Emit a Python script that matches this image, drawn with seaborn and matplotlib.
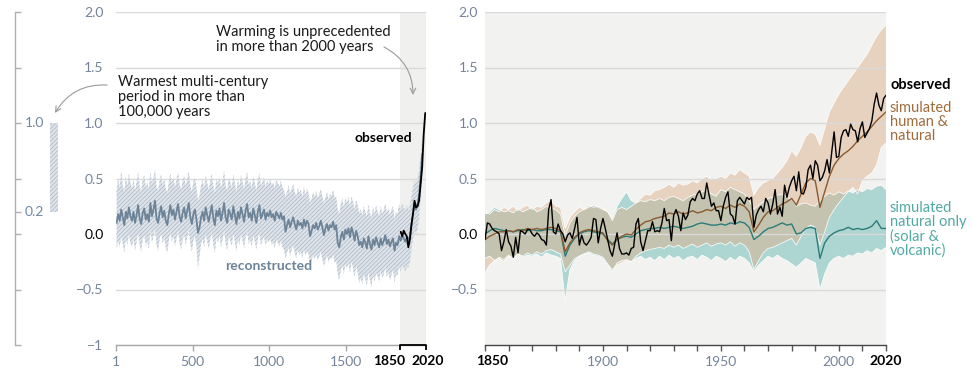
import matplotlib
matplotlib.use("Agg")
import matplotlib.pyplot as plt
import seaborn as sns
import pandas as pd
import numpy as np

# ---------------- data ----------------
# (a) reconstructed decadal global surface temperature change (°C, rel. 1850-1900)
rec_years = list(range(5, 2000, 10))
rec_mid = [
    0.10, 0.18, 0.12, 0.22, 0.15, 0.08, 0.20, 0.14, 0.24, 0.16,
    0.12, 0.20, 0.10, 0.17, 0.26, 0.14, 0.09, 0.19, 0.23, 0.13,
    0.18, 0.11, 0.28, 0.16, 0.22, 0.30, 0.14, 0.10, 0.19, 0.25,
    0.15, 0.21, 0.12, 0.08, 0.18, 0.26, 0.17, 0.22, 0.13, 0.20,
    0.27, 0.16, 0.11, 0.19, 0.24, 0.14, 0.21, 0.28, 0.15, 0.09,
    0.18, 0.22, 0.13, 0.01, 0.06, 0.15, 0.20, 0.12, 0.24, 0.17,
    0.11, 0.19, 0.26, 0.14, 0.08, 0.21, 0.16, 0.23, 0.12, 0.19,
    0.28, 0.15, 0.10, 0.22, 0.18, 0.13, 0.25, 0.17, 0.09, 0.20,
    0.14, 0.24, 0.18, 0.11, 0.21, 0.27, 0.15, 0.19, 0.12, 0.23,
    0.17, 0.10, 0.20, 0.26, 0.14, 0.18, 0.22, 0.13, 0.19, 0.16,
    0.21, 0.15, 0.18, 0.12, 0.20, 0.17, 0.14, 0.19, 0.13, 0.16,
    0.02, 0.08, 0.13, 0.06, 0.11, 0.15, 0.09, 0.04, 0.12, 0.08,
    0.10, 0.05, 0.13, 0.07, 0.12, 0.09, -0.02, 0.03, 0.08, 0.05,
    0.10, 0.04, 0.07, 0.12, 0.06, -0.01, 0.05, 0.09, 0.03, 0.08,
    0.06, 0.11, 0.04, 0.08, -0.08, -0.12, -0.03, 0.02, -0.05, 0.04,
    0.00, 0.05, -0.03, 0.06, 0.01, -0.06, 0.03, -0.02, -0.10, -0.07,
    -0.12, -0.04, -0.08, -0.13, -0.02, -0.09, -0.14, -0.05, -0.10, -0.03,
    -0.08, -0.12, -0.04, -0.10, -0.06, -0.01, -0.09, -0.05, -0.11, -0.07,
    -0.04, -0.15, -0.08, -0.10, -0.02, -0.06, -0.01, -0.04, -0.07, -0.03,
    -0.06, -0.02, 0.08, 0.18, 0.25, 0.22, 0.27, 0.35, 0.52, 0.72,
]
rec_hi = [
    0.40, 0.50, 0.42, 0.58, 0.44, 0.38, 0.52, 0.43, 0.55, 0.46,
    0.41, 0.50, 0.39, 0.47, 0.56, 0.43, 0.38, 0.49, 0.53, 0.42,
    0.47, 0.40, 0.57, 0.45, 0.51, 0.58, 0.43, 0.39, 0.48, 0.54,
    0.44, 0.50, 0.41, 0.37, 0.47, 0.55, 0.46, 0.51, 0.42, 0.49,
    0.56, 0.45, 0.40, 0.48, 0.53, 0.43, 0.50, 0.57, 0.44, 0.38,
    0.47, 0.51, 0.42, 0.30, 0.35, 0.44, 0.49, 0.41, 0.53, 0.46,
    0.40, 0.48, 0.55, 0.43, 0.37, 0.50, 0.45, 0.52, 0.41, 0.48,
    0.57, 0.44, 0.39, 0.51, 0.47, 0.42, 0.54, 0.46, 0.38, 0.49,
    0.43, 0.53, 0.47, 0.40, 0.50, 0.56, 0.44, 0.48, 0.41, 0.52,
    0.46, 0.39, 0.49, 0.55, 0.43, 0.47, 0.51, 0.42, 0.48, 0.45,
    0.50, 0.44, 0.47, 0.41, 0.49, 0.46, 0.43, 0.48, 0.42, 0.40,
    0.33, 0.38, 0.44, 0.36, 0.41, 0.45, 0.38, 0.34, 0.42, 0.37,
    0.40, 0.33, 0.43, 0.35, 0.41, 0.37, 0.28, 0.32, 0.38, 0.33,
    0.39, 0.32, 0.36, 0.41, 0.34, 0.28, 0.33, 0.38, 0.31, 0.36,
    0.34, 0.40, 0.32, 0.34, 0.22, 0.18, 0.27, 0.32, 0.24, 0.33,
    0.28, 0.34, 0.25, 0.34, 0.29, 0.22, 0.31, 0.26, 0.19, 0.22,
    0.17, 0.25, 0.20, 0.16, 0.27, 0.19, 0.15, 0.24, 0.18, 0.26,
    0.20, 0.16, 0.25, 0.18, 0.22, 0.28, 0.19, 0.24, 0.17, 0.22,
    0.25, 0.13, 0.20, 0.18, 0.27, 0.22, 0.28, 0.24, 0.21, 0.26,
    0.22, 0.26, 0.34, 0.42, 0.48, 0.45, 0.50, 0.56, 0.70, 0.88,
]
rec_lo = [
    -0.14, -0.06, -0.12, -0.02, -0.09, -0.17, -0.04, -0.10, 0.00, -0.08,
    -0.12, -0.04, -0.15, -0.07, 0.02, -0.10, -0.16, -0.05, -0.01, -0.11,
    -0.06, -0.14, 0.04, -0.08, -0.02, 0.05, -0.10, -0.15, -0.05, 0.01,
    -0.09, -0.03, -0.12, -0.17, -0.06, 0.02, -0.07, -0.02, -0.11, -0.04,
    0.03, -0.08, -0.14, -0.05, 0.00, -0.10, -0.03, 0.04, -0.09, -0.16,
    -0.06, -0.02, -0.11, -0.31, -0.20, -0.09, -0.04, -0.12, 0.00, -0.07,
    -0.13, -0.05, 0.02, -0.10, -0.17, -0.03, -0.08, -0.01, -0.12, -0.05,
    0.04, -0.09, -0.15, -0.02, -0.06, -0.11, 0.01, -0.07, -0.16, -0.04,
    -0.10, 0.00, -0.06, -0.13, -0.03, 0.03, -0.09, -0.05, -0.12, -0.01,
    -0.07, -0.14, -0.04, 0.02, -0.10, -0.06, -0.02, -0.11, -0.05, -0.08,
    -0.04, -0.10, -0.07, -0.13, -0.05, -0.08, -0.11, -0.06, -0.12, -0.14,
    -0.22, -0.17, -0.12, -0.20, -0.14, -0.10, -0.17, -0.22, -0.14, -0.19,
    -0.16, -0.22, -0.13, -0.20, -0.15, -0.18, -0.29, -0.24, -0.19, -0.23,
    -0.18, -0.24, -0.20, -0.16, -0.23, -0.29, -0.24, -0.19, -0.26, -0.21,
    -0.23, -0.18, -0.26, -0.24, -0.36, -0.42, -0.33, -0.28, -0.36, -0.27,
    -0.31, -0.26, -0.35, -0.25, -0.31, -0.39, -0.29, -0.35, -0.44, -0.40,
    -0.45, -0.36, -0.41, -0.47, -0.34, -0.42, -0.48, -0.37, -0.43, -0.35,
    -0.38, -0.43, -0.33, -0.40, -0.36, -0.30, -0.39, -0.34, -0.42, -0.37,
    -0.32, -0.44, -0.36, -0.38, -0.29, -0.34, -0.28, -0.31, -0.34, -0.30,
    -0.30, -0.25, -0.14, -0.04, 0.03, 0.00, 0.05, 0.14, 0.32, 0.54,
]
# (a) observed decadal means
obs_dec_years = [1855, 1865, 1875, 1885, 1895, 1905, 1915, 1925, 1935,
                 1945, 1955, 1965, 1975, 1985, 1995, 2005, 2015]
obs_dec = [0.02, -0.02, 0.03, 0.00, -0.02, -0.12, -0.05, 0.08, 0.18,
           0.30, 0.24, 0.25, 0.30, 0.45, 0.60, 0.90, 1.09]
# warmest multi-century period (range, °C)
paleo_range = [0.2, 1.0]

# (b) observed annual 1850-2020
obs_years = list(range(1850, 2021))
obs = [
    -0.05, 0.10, 0.09, 0.05, 0.03, 0.02, 0.00, -0.15, -0.07, 0.04,
    -0.07, -0.11, -0.21, -0.03, -0.17, 0.03, 0.02, 0.00, 0.04, 0.04,
    0.00, -0.02, 0.01, -0.01, -0.05, -0.06, -0.10, 0.22, 0.31, 0.02,
    0.00, 0.09, 0.03, 0.00, -0.07, -0.01, 0.01, -0.04, 0.05, 0.15,
    -0.10, -0.01, -0.08, -0.10, -0.07, -0.03, 0.14, 0.13, -0.08, 0.05,
    0.14, 0.05, -0.05, -0.15, -0.20, -0.09, 0.01, -0.13, -0.18, -0.18,
    -0.17, -0.19, -0.13, -0.12, 0.09, 0.14, -0.07, -0.15, -0.06, 0.03,
    0.03, 0.11, 0.02, 0.03, 0.02, 0.10, 0.23, 0.12, 0.13, -0.06,
    0.17, 0.22, 0.16, 0.03, 0.19, 0.13, 0.17, 0.29, 0.32, 0.30,
    0.36, 0.39, 0.32, 0.32, 0.46, 0.35, 0.25, 0.28, 0.21, 0.21,
    0.12, 0.25, 0.33, 0.38, 0.18, 0.16, 0.09, 0.30, 0.33, 0.30,
    0.27, 0.33, 0.31, 0.33, 0.06, 0.17, 0.22, 0.25, 0.20, 0.32,
    0.28, 0.18, 0.27, 0.40, 0.18, 0.24, 0.16, 0.44, 0.33, 0.42,
    0.48, 0.52, 0.39, 0.56, 0.37, 0.36, 0.42, 0.58, 0.62, 0.50,
    0.66, 0.62, 0.48, 0.51, 0.57, 0.67, 0.55, 0.74, 0.92, 0.69,
    0.70, 0.87, 0.93, 0.94, 0.88, 0.99, 0.94, 0.93, 0.83, 0.95,
    1.01, 0.87, 0.91, 0.95, 1.02, 1.17, 1.27, 1.16, 1.11, 1.22, 1.25,
]
# (b) simulations (every 2 years)
sim_years = list(range(1850, 2021, 2))
hn_mean = [
    -0.05, -0.02, 0.00, 0.02, 0.02, 0.03, 0.02, 0.04, 0.03, 0.05,
    0.04, 0.05, 0.04, 0.05, 0.06, 0.05, 0.03, -0.16, -0.08, -0.03,
    0.01, 0.03, 0.04, 0.03, 0.02, 0.01, -0.06, -0.10, -0.05, -0.02,
    0.00, -0.01, 0.04, 0.08, 0.11, 0.12, 0.14, 0.15, 0.16, 0.19,
    0.18, 0.20, 0.18, 0.19, 0.21, 0.19, 0.20, 0.22, 0.21, 0.24,
    0.25, 0.23, 0.26, 0.24, 0.27, 0.25, 0.20, 0.02, 0.08, 0.15,
    0.20, 0.21, 0.24, 0.27, 0.29, 0.32, 0.26, 0.36, 0.46, 0.50,
    0.48, 0.24, 0.38, 0.52, 0.62, 0.68, 0.72, 0.75, 0.79, 0.84,
    0.88, 0.92, 0.97, 1.02, 1.06, 1.10,
]
hn_hi = [
    0.19, 0.18, 0.22, 0.20, 0.24, 0.22, 0.25, 0.21, 0.24, 0.26,
    0.22, 0.25, 0.24, 0.28, 0.30, 0.25, 0.24, 0.05, 0.15, 0.20,
    0.24, 0.22, 0.26, 0.24, 0.25, 0.23, 0.20, 0.12, 0.22, 0.24,
    0.22, 0.25, 0.28, 0.32, 0.36, 0.35, 0.39, 0.40, 0.42, 0.45,
    0.42, 0.46, 0.44, 0.45, 0.48, 0.46, 0.50, 0.52, 0.49, 0.50,
    0.52, 0.50, 0.55, 0.53, 0.58, 0.55, 0.52, 0.35, 0.42, 0.46,
    0.48, 0.50, 0.55, 0.60, 0.66, 0.75, 0.70, 0.78, 0.88, 0.92,
    0.90, 0.80, 0.95, 1.10, 1.18, 1.26, 1.32, 1.38, 1.44, 1.50,
    1.56, 1.62, 1.70, 1.78, 1.84, 1.88,
]
hn_lo = [
    -0.35, -0.28, -0.24, -0.22, -0.25, -0.20, -0.22, -0.18, -0.20, -0.17,
    -0.19, -0.16, -0.18, -0.15, -0.14, -0.16, -0.18, -0.34, -0.28, -0.22,
    -0.20, -0.18, -0.16, -0.18, -0.19, -0.21, -0.27, -0.32, -0.28, -0.26,
    -0.24, -0.25, -0.20, -0.17, -0.15, -0.14, -0.13, -0.12, -0.13, -0.10,
    -0.12, -0.10, -0.13, -0.11, -0.09, -0.12, -0.10, -0.08, -0.11, -0.09,
    -0.08, -0.10, -0.07, -0.11, -0.08, -0.10, -0.16, -0.32, -0.24, -0.17,
    -0.13, -0.12, -0.10, -0.08, -0.06, -0.04, -0.10, -0.02, 0.05, 0.08,
    0.06, -0.10, 0.02, 0.15, 0.22, 0.28, 0.33, 0.38, 0.42, 0.36,
    0.48, 0.52, 0.55, 0.62, 0.78, 0.82,
]
nat_mean = [
    0.00, 0.03, 0.05, 0.04, 0.03, 0.03, 0.02, 0.03, 0.04, 0.03,
    0.04, 0.03, 0.03, 0.04, 0.04, 0.03, 0.02, -0.20, -0.10, -0.04,
    0.00, 0.02, 0.03, 0.02, 0.01, 0.00, -0.05, -0.09, -0.05, -0.03,
    -0.02, -0.03, 0.00, 0.03, 0.04, 0.05, 0.05, 0.06, 0.05, 0.06,
    0.07, 0.06, 0.05, 0.06, 0.07, 0.09, 0.10, 0.09, 0.08, 0.08,
    0.09, 0.08, 0.10, 0.09, 0.11, 0.10, 0.06, -0.05, -0.02, 0.02,
    0.05, 0.06, 0.08, 0.10, 0.08, 0.09, 0.00, 0.01, 0.05, 0.06,
    0.05, -0.22, -0.08, -0.02, 0.01, 0.03, 0.04, 0.06, 0.04, 0.05,
    0.04, 0.05, 0.07, 0.12, 0.05, 0.05,
]
nat_hi = [
    0.18, 0.20, 0.24, 0.22, 0.20, 0.21, 0.19, 0.23, 0.20, 0.22,
    0.24, 0.20, 0.22, 0.25, 0.23, 0.22, 0.18, -0.02, 0.10, 0.16,
    0.20, 0.22, 0.24, 0.26, 0.24, 0.22, 0.20, 0.14, 0.25, 0.32,
    0.38, 0.30, 0.28, 0.30, 0.29, 0.31, 0.30, 0.32, 0.30, 0.33,
    0.34, 0.32, 0.30, 0.33, 0.35, 0.36, 0.38, 0.40, 0.36, 0.34,
    0.40, 0.38, 0.42, 0.40, 0.38, 0.36, 0.30, 0.22, 0.26, 0.29,
    0.32, 0.33, 0.35, 0.36, 0.33, 0.31, 0.25, 0.27, 0.28, 0.26,
    0.25, 0.30, 0.34, 0.37, 0.35, 0.38, 0.36, 0.39, 0.37, 0.40,
    0.38, 0.41, 0.40, 0.43, 0.44, 0.40,
]
nat_lo = [
    -0.22, -0.20, -0.24, -0.21, -0.23, -0.19, -0.22, -0.18, -0.21, -0.19,
    -0.20, -0.18, -0.21, -0.17, -0.19, -0.20, -0.22, -0.60, -0.32, -0.24,
    -0.20, -0.18, -0.17, -0.19, -0.20, -0.22, -0.28, -0.34, -0.26, -0.24,
    -0.23, -0.25, -0.22, -0.20, -0.23, -0.21, -0.24, -0.20, -0.23, -0.19,
    -0.22, -0.20, -0.24, -0.21, -0.20, -0.23, -0.19, -0.21, -0.24, -0.20,
    -0.22, -0.25, -0.21, -0.24, -0.20, -0.22, -0.26, -0.34, -0.28, -0.24,
    -0.20, -0.22, -0.19, -0.22, -0.24, -0.27, -0.30, -0.26, -0.22, -0.24,
    -0.26, -0.50, -0.36, -0.26, -0.22, -0.20, -0.22, -0.19, -0.20, -0.17,
    -0.18, -0.15, -0.17, -0.13, -0.15, -0.12,
]

y_ticks = [-1, -0.5, 0, 0.5, 1.0, 1.5, 2.0]
y_labels = ["\u22121", "\u22120.5", "0.0", "0.5", "1.0", "1.5", "2.0"]

# ---------------- style ----------------
sns.set_style("white")
plt.rcParams["font.family"] = ["Lato", "DejaVu Sans"]
plt.rcParams["hatch.linewidth"] = 0.6

TICK_COL = "#75849a"
GRID_COL = "#dadada"
REC_COL = "#6d8397"
HN_LINE = "#8a5a2e"
HN_TEXT = "#a06d3c"
NAT_LINE = "#2a7d78"
NAT_TEXT = "#52aaa4"
HATCH_FACE = "#dfe4ea"
HATCH_LINE = "#afbcc9"
HATCH = "////////"

W, H = 972, 384
fig = plt.figure(figsize=(W / 100, H / 100), dpi=100)


def px(x0, y0, x1, y1):
    return [x0 / W, 1 - y1 / H, (x1 - x0) / W, (y1 - y0) / H]


ax0 = fig.add_axes(px(15, 12, 65, 345))
ax1 = fig.add_axes(px(116, 12, 426, 345))
ax2 = fig.add_axes(px(485, 12, 886, 345))

# ---------------- small left axis ----------------
ax0.patch.set_visible(False)
ax0.set_xlim(0, 50)
ax0.set_ylim(-1, 2)
for s in ["top", "right", "bottom"]:
    ax0.spines[s].set_visible(False)
ax0.spines["left"].set_color("#b0b0b0")
ax0.spines["left"].set_linewidth(1.0)
ax0.set_yticks([-1, -0.5, 0, 0.2, 0.5, 1.0, 1.5, 2.0])
ax0.tick_params(axis="y", direction="in", length=4, width=1.0, color="#b0b0b0",
                labelleft=False, left=True)
ax0.set_xticks([])
ax0.bar([39], [paleo_range[1] - paleo_range[0]], bottom=[paleo_range[0]], width=8,
        facecolor=HATCH_FACE, edgecolor=HATCH_LINE, hatch=HATCH, linewidth=0)
ax0.text(10, 1.0, "1.0", color="#6f88a3", fontsize=10, va="center", ha="left")
ax0.text(10, 0.2, "0.2", color="#6f88a3", fontsize=10, va="center", ha="left")

# ---------------- panel (a) ----------------
rec = pd.DataFrame({"year": rec_years, "mid": rec_mid, "lo": rec_lo, "hi": rec_hi})
obsd = pd.DataFrame({"year": obs_dec_years, "temp": obs_dec})

ax1.axvspan(1850, 2020, color="#f0f0ee", lw=0, zorder=0.2)
ax1.fill_between(rec["year"], rec["lo"], rec["hi"], facecolor=HATCH_FACE,
                 edgecolor=HATCH_LINE, hatch=HATCH, linewidth=0, zorder=2)
sns.lineplot(data=rec, x="year", y="mid", ax=ax1, color=REC_COL, lw=1.3,
             estimator=None, zorder=3)
sns.lineplot(data=obsd, x="year", y="temp", ax=ax1, color="black", lw=1.3,
             estimator=None, zorder=4)

ax1.set_xlim(1, 2020)
ax1.set_ylim(-1, 2)
ax1.set_xlabel("")
ax1.set_ylabel("")
ax1.set_axisbelow(True)
ax1.yaxis.grid(True, color=GRID_COL, lw=1.0)
ax1.xaxis.grid(False)
for s in ["top", "right", "left"]:
    ax1.spines[s].set_visible(False)
ax1.spines["bottom"].set_color("#a8a8a8")
ax1.spines["bottom"].set_linewidth(1.0)
ax1.set_xticks([1, 500, 1000, 1500])
ax1.set_xticklabels(["1", "500", "1000", "1500"])
ax1.tick_params(axis="x", length=4, width=1.0, color="#a8a8a8", pad=4,
                labelsize=10, labelcolor=TICK_COL, bottom=True)
ax1.set_yticks(y_ticks)
ax1.set_yticklabels(y_labels)
ax1.tick_params(axis="y", length=0, pad=9, labelsize=10, labelcolor=TICK_COL)
for t in ax1.get_yticklabels():
    if t.get_text() == "0.0":
        t.set_color("black")

# black bracket 1850-2020
ax1.plot([1850, 1850, 2020, 2020], [-1.045, -1, -1, -1.045], color="black",
         lw=1.3, clip_on=False, zorder=5, solid_capstyle="butt")
ax1.annotate("1850", xy=(1850, -1), xycoords="data", xytext=(4, -7),
             textcoords="offset points", ha="right", va="top", fontsize=10,
             fontweight="bold", color="black", annotation_clip=False)
ax1.annotate("2020", xy=(2020, -1), xycoords="data", xytext=(1, -7),
             textcoords="offset points", ha="center", va="top", fontsize=10,
             fontweight="bold", color="black", annotation_clip=False)

ax1.text(1930, 0.865, "observed", ha="right", va="center", fontsize=10,
         fontweight="bold", color="black")
ax1.text(997, -0.29, "reconstructed", ha="center", va="center", fontsize=10,
         fontweight="bold", color=REC_COL)

fig.text(216 / W, 1 - 39.5 / H, "Warming is unprecedented\nin more than 2000 years",
         ha="left", va="center", fontsize=10.5, color="#1a1a1a", linespacing=1.05)
fig.text(118 / W, 1 - 97 / H, "Warmest multi-century\nperiod in more than\n100,000 years",
         ha="left", va="center", fontsize=10.5, color="#1a1a1a", linespacing=1.05)

arrow_kw = dict(arrowstyle="->,head_length=0.4,head_width=0.2", color="#9a9a9a",
                lw=0.8, shrinkA=0, shrinkB=0)
ax1.annotate("", xy=(413, H - 95), xycoords="figure pixels",
             xytext=(384, H - 47), textcoords="figure pixels",
             arrowprops=dict(connectionstyle="arc3,rad=-0.3", **arrow_kw),
             annotation_clip=False)
ax1.annotate("", xy=(55, H - 113), xycoords="figure pixels",
             xytext=(107, H - 85), textcoords="figure pixels",
             arrowprops=dict(connectionstyle="arc3,rad=0.3", **arrow_kw),
             annotation_clip=False)

# ---------------- panel (b) ----------------
sim = pd.DataFrame({"year": sim_years, "hn": hn_mean, "hn_lo": hn_lo, "hn_hi": hn_hi,
                    "nat": nat_mean, "nat_lo": nat_lo, "nat_hi": nat_hi})
obsa = pd.DataFrame({"year": obs_years, "temp": obs})

ax2.set_facecolor("#f2f2f0")
ax2.fill_between(sim["year"], sim["nat_lo"], sim["nat_hi"], facecolor="#7fc3bd",
                 alpha=0.6, edgecolor="none", linewidth=0, zorder=1)
ax2.fill_between(sim["year"], sim["hn_lo"], sim["hn_hi"], facecolor="#dcb08a",
                 alpha=0.47, edgecolor="none", linewidth=0, zorder=1.1)
# thin white outlines of the ranges
for lo, hi in [("nat_lo", "nat_hi"), ("hn_lo", "hn_hi")]:
    ax2.plot(sim["year"], sim[lo], color="white", lw=0.6, alpha=0.9, zorder=1.2)
    ax2.plot(sim["year"], sim[hi], color="white", lw=0.6, alpha=0.9, zorder=1.2)

sns.lineplot(data=sim, x="year", y="nat", ax=ax2, color=NAT_LINE, lw=1.0,
             estimator=None, zorder=3)
sns.lineplot(data=sim, x="year", y="hn", ax=ax2, color=HN_LINE, lw=1.0,
             estimator=None, zorder=3.1)
sns.lineplot(data=obsa, x="year", y="temp", ax=ax2, color="black", lw=1.0,
             estimator=None, zorder=4)

ax2.set_xlim(1850, 2020)
ax2.set_ylim(-1, 2)
ax2.set_xlabel("")
ax2.set_ylabel("")
ax2.set_axisbelow("line")
ax2.yaxis.grid(True, color=GRID_COL, lw=1.0)
ax2.xaxis.grid(False)
for s in ["top", "right", "left"]:
    ax2.spines[s].set_visible(False)
ax2.spines["bottom"].set_color("#444444")
ax2.spines["bottom"].set_linewidth(1.0)
ax2.set_xticks([1900, 1950, 2000])
ax2.set_xticklabels(["1900", "1950", "2000"])
ax2.set_xticks(list(range(1850, 2021, 10)), minor=True)
ax2.tick_params(axis="x", which="both", length=4, width=1.0, color="#555555",
                pad=4, labelsize=10, labelcolor=TICK_COL, bottom=True)
ax2.set_yticks(y_ticks[1:])
ax2.set_yticklabels(y_labels[1:])
ax2.tick_params(axis="y", length=0, pad=5, labelsize=10, labelcolor=TICK_COL)
for t in ax2.get_yticklabels():
    if t.get_text() == "0.0":
        t.set_color("black")
ax2.annotate("1850", xy=(1850, -1), xycoords="data", xytext=(5, -7),
             textcoords="offset points", ha="center", va="top", fontsize=10,
             fontweight="bold", color="black", annotation_clip=False)
ax2.annotate("2020", xy=(2020, -1), xycoords="data", xytext=(0, -7),
             textcoords="offset points", ha="center", va="top", fontsize=10,
             fontweight="bold", color="black", annotation_clip=False)

ax2.text(2021.7, 1.342, "observed", ha="left", va="center", fontsize=10.5,
         fontweight="bold", color="black", clip_on=False)
ax2.text(2021.7, 1.005, "simulated\nhuman &\nnatural", ha="left", va="center",
         fontsize=10.5, color=HN_TEXT, linespacing=1.0, clip_on=False)
ax2.text(2021.7, 0.04, "simulated\nnatural only\n(solar &\nvolcanic)", ha="left",
         va="center", fontsize=10.5, color=NAT_TEXT, linespacing=1.0, clip_on=False)

fig.savefig("out.png", dpi=100)
